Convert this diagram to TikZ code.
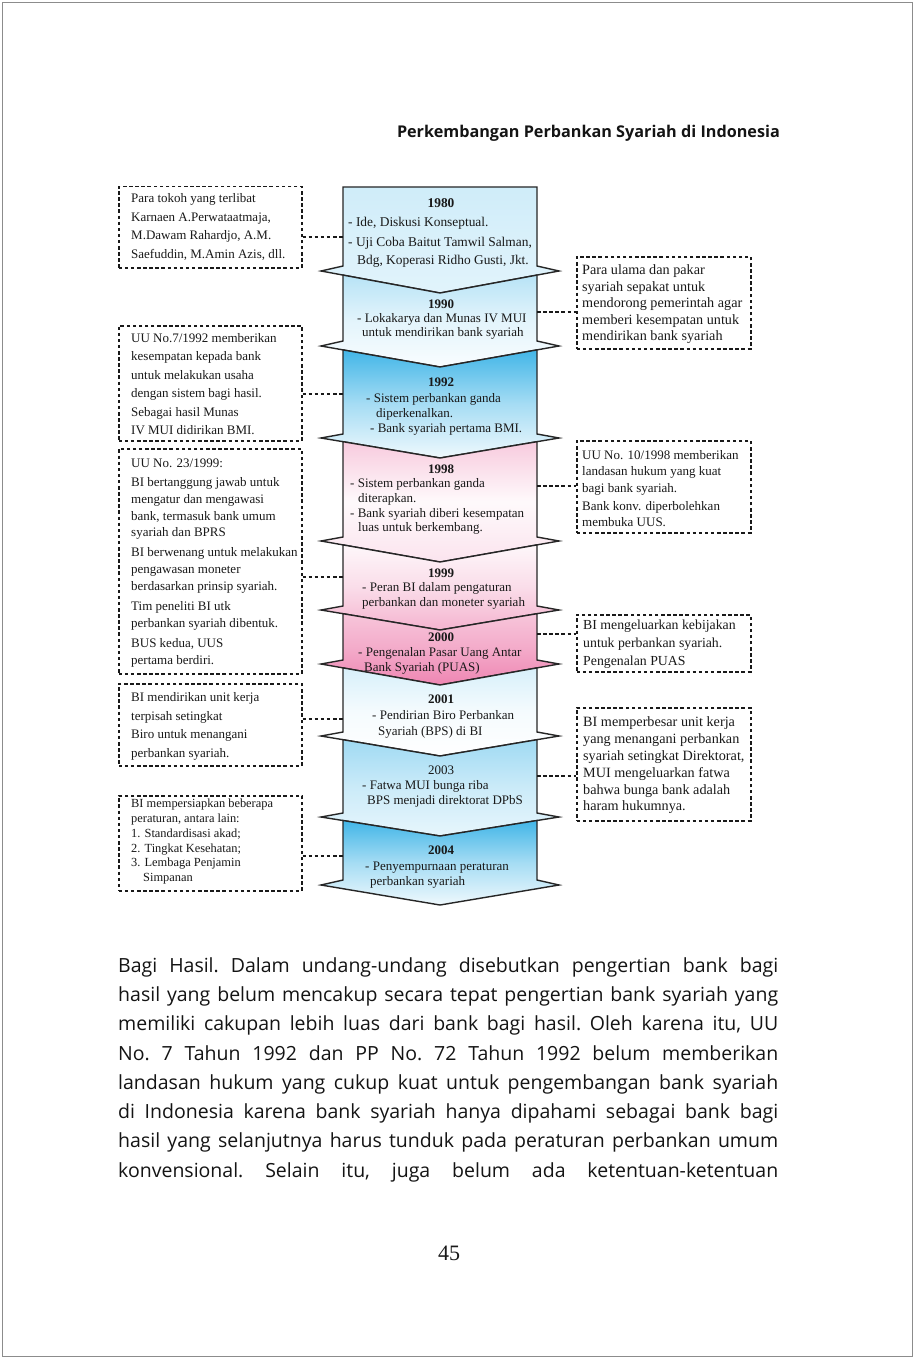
\documentclass[tikz,border=0pt]{standalone}
\usepackage{fontspec}
\setmainfont{Liberation Serif}
\newfontfamily\bodyfont{Open Sans}
\definecolor{skyb}{RGB}{56,178,230}
\definecolor{pinkc}{RGB}{236,118,168}
\newcommand\chevron[8]{%
  \path[chevline, top color=#6, bottom color=#8, middle color=#7]
    (343,#1) -- (440,#2) -- (537,#1) -- (537,#3) -- (559,#4) -- (440,#5) -- (321,#4) -- (343,#3) -- cycle;}
\newcommand\txlines[3]{%
  \foreach \xx/\yy/\ltext [count=\i] in {#3} {\node[tx,#2] (#1-\i) at (\xx,\yy) {\ltext};}}
\newcommand\bline[1]{\frenchspacing\spaceskip=0.22em plus 1em minus 0.1em\relax\hbox to 660pt{#1}}
\begin{document}
\begin{tikzpicture}[x=1pt,y=-1pt,
  chevline/.style={draw=black!85, line width=1.4pt, line join=miter},
  dbox/.style={draw=black!90, line width=1.5pt, dash pattern=on 3.5pt off 2.6pt, anchor=north west, inner sep=0pt},
  dline/.style={draw=black!90, line width=1.5pt, dash pattern=on 3.5pt off 2.6pt},
  tx/.style={anchor=base west, inner sep=0pt, text=black!90, font=\fontsize{13}{15}\selectfont},
  yr/.style={anchor=base, inner sep=0pt, text=black!90, font=\fontsize{13}{15}\selectfont\bfseries},
  bodyline/.style={anchor=base west, inner sep=0pt, text=black!92,
    font=\bodyfont\fontsize{19.5}{29}\selectfont},
]
\useasboundingbox (0,0) rectangle (915,1359);
\fill[white] (0,0) rectangle (915,1359);
\draw[black!45, line width=1pt] (2.5,2.5) rectangle (912.5,1356.5);

% header
\node[anchor=base east, inner sep=0pt, text=black!92, font=\bodyfont\bfseries\fontsize{16.2}{18}\selectfont] (hd) at (780,138) {Perkembangan Perbankan Syariah di Indonesia};

% chevrons
\chevron{187}{187}{266}{271}{293}{skyb!24}{skyb!19}{skyb!15}
\chevron{275.1}{293}{341}{346}{367}{skyb!36}{skyb!14}{skyb!3}
\chevron{349.9}{367}{434}{438}{458}{skyb!95}{skyb!45}{skyb!8}
\chevron{441.7}{458}{537}{541}{562}{pinkc!38}{pinkc!4}{pinkc!20}
\chevron{544.9}{562}{606}{610}{630}{pinkc!6}{pinkc!25}{pinkc!55}
\chevron{613.7}{630}{660}{664}{685}{pinkc!42}{pinkc!62}{pinkc!88}
\chevron{667.9}{685}{732}{736}{756}{skyb!20}{skyb!5}{white}
\chevron{739.7}{756}{813}{817}{836}{skyb!48}{skyb!26}{skyb!12}
\chevron{820.5}{836}{880}{885}{905}{skyb!95}{skyb!45}{skyb!8}

% chevron anchor points for connectors
\coordinate (k1) at (343,237);
\coordinate (k2) at (343,394);
\coordinate (k3) at (343,577);
\coordinate (k4) at (343,719);
\coordinate (k5) at (343,856);
\coordinate (r1) at (537,312);
\coordinate (r2) at (537,486);
\coordinate (r3) at (537,634);
\coordinate (r4) at (537,776);

% chevron texts
\node[yr, font=\fontsize{13.4}{15}\selectfont\bfseries] (Y80) at (441,207.5) {1980};
\txlines{S1}{font=\fontsize{13.4}{15}\selectfont}{348/226.5/{- Ide, Diskusi Konseptual.}, 348/246/{- Uji Coba Baitut Tamwil Salman,}, 357/264.5/{Bdg, Koperasi Ridho Gusti, Jkt.}}
\node[yr] (Y90) at (441,308.5) {1990};
\txlines{S2}{}{357/322/- Lokakarya dan Munas IV MUI, 362/336/untuk mendirikan bank syariah}
\node[yr] (Y92) at (441,386) {1992};
\txlines{S3}{}{366/402/- Sistem perbankan ganda, 376/417/diperkenalkan., 370/432/- Bank syariah pertama BMI.}
\node[yr] (Y98) at (441,473) {1998};
\txlines{S4}{}{350/487/- Sistem perbankan ganda, 358/502.5/diterapkan., 350/517/- Bank syariah diberi kesempatan, 358/531.5/luas untuk berkembang.}
\node[yr] (Y99) at (441,577.5) {1999};
\txlines{S5}{}{362/591/- Peran BI dalam pengaturan, 362/606/perbankan dan moneter syariah}
\node[yr] (Y00) at (441,641.5) {2000};
\txlines{S6}{}{358/656/- Pengenalan Pasar Uang Antar, 364/671/Bank Syariah (PUAS)}
\node[yr] (Y01) at (441,703.5) {2001};
\txlines{S7}{}{372/719/- Pendirian Biro Perbankan, 378/735/Syariah (BPS) di BI}
\node[yr, font=\fontsize{13}{15}\selectfont] (Y03) at (441,774.5) {2003};
\txlines{S8}{}{362/789/- Fatwa MUI bunga riba, 367/804.5/BPS menjadi direktorat DPbS}
\node[yr] (Y04) at (441,854.5) {2004};
\txlines{S9}{}{365/870/- Penyempurnaan peraturan, 370/885/perbankan syariah}

% left boxes
\node[dbox, minimum width=183pt, minimum height=81pt] (L1) at (118,186) {};
\txlines{L1t}{}{131/202/Para tokoh yang terlibat, 131/221/{Karnaen A.Perwataatmaja,}, 131/239.5/{M.Dawam Rahardjo, A.M.}, 131/258/{Saefuddin, M.Amin Azis, dll.}}
\node[dbox, minimum width=183pt, minimum height=115pt] (L2) at (118,325) {};
\txlines{L2t}{}{131/342/{UU No.7/1992 memberikan}, 131/360.5/kesempatan kepada bank, 131/379/untuk melakukan usaha, 131/397.5/dengan sistem bagi hasil., 131/416/Sebagai hasil Munas, 131/434.5/IV MUI didirikan BMI.}
\node[dbox, minimum width=183pt, minimum height=225pt] (L3) at (118,448) {};
\txlines{L3t}{}{131/467/{UU No. 23/1999:}, 131/486.5/BI bertanggung jawab untuk, 131/503.5/mengatur dan mengawasi, 131/520.5/{bank, termasuk bank umum}, 131/536.5/syariah dan BPRS, 131/556.5/BI berwenang untuk melakukan, 131/573.5/pengawasan moneter, 131/590.5/berdasarkan prinsip syariah., 131/610.5/Tim peneliti BI utk, 131/627/perbankan syariah dibentuk., 131/647.5/{BUS kedua, UUS}, 131/664.5/pertama berdiri.}
\node[dbox, minimum width=183pt, minimum height=82pt] (L4) at (118,683) {};
\txlines{L4t}{}{131/701/BI mendirikan unit kerja, 131/720/terpisah setingkat, 131/738/Biro untuk menangani, 131/757/perbankan syariah.}
\node[dbox, minimum width=183pt, minimum height=95pt] (L5) at (118,795) {};
\txlines{L5t}{font=\fontsize{12.4}{14}\selectfont}{131/807/BI mempersiapkan beberapa, 131/822.5/{peraturan, antara lain:}, 131/837/1. Standardisasi akad;, 131/852/2. Tingkat Kesehatan;, 131/866/3. Lembaga Penjamin, 143/881/Simpanan}

% right boxes
\node[dbox, minimum width=174pt, minimum height=92pt] (R1) at (576,256) {};
\txlines{R1t}{font=\fontsize{14.2}{16}\selectfont}{582/274/Para ulama dan pakar, 582/291/syariah sepakat untuk, 582/307.5/mendorong pemerintah agar, 582/324/memberi kesempatan untuk, 582/340.5/mendirikan bank syariah}
\node[dbox, minimum width=174pt, minimum height=92pt] (R2) at (576,440) {};
\txlines{R2t}{}{582/459/{UU No. 10/1998 memberikan}, 582/475.5/landasan hukum yang kuat, 582/492/bagi bank syariah., 582/510/Bank konv. diperbolehkan, 582/526/membuka UUS.}
\node[dbox, minimum width=174pt, minimum height=57pt] (R3) at (576,614) {};
\txlines{R3t}{font=\fontsize{13.8}{15}\selectfont}{583/629/BI mengeluarkan kebijakan, 583/647/untuk perbankan syariah., 583/665/Pengenalan PUAS}
\node[dbox, minimum width=174pt, minimum height=113pt] (R4) at (576,707) {};
\txlines{R4t}{font=\fontsize{14.2}{16}\selectfont}{583/726.5/BI memperbesar unit kerja, 583/743.5/yang menangani perbankan, 583/760.5/{syariah setingkat Direktorat,}, 583/777/MUI mengeluarkan fatwa, 583/794/bahwa bunga bank adalah, 583/810/haram hukumnya.}

% connectors
\draw[dline] (L1.east |- k1) -- (k1);
\draw[dline] (L2.east |- k2) -- (k2);
\draw[dline] (L3.east |- k3) -- (k3);
\draw[dline] (L4.east |- k4) -- (k4);
\draw[dline] (L5.east |- k5) -- (k5);
\draw[dline] (r1) -- (R1.west |- r1);
\draw[dline] (r2) -- (R2.west |- r2);
\draw[dline] (r3) -- (R3.west |- r3);
\draw[dline] (r4) -- (R4.west |- r4);

% body text
\node[bodyline] (b1) at (118,972) {\bline{Bagi Hasil. Dalam undang-undang disebutkan pengertian bank bagi}};
\node[bodyline] (b2) at (118,1001.3) {\bline{hasil yang belum mencakup secara tepat pengertian bank syariah yang}};
\node[bodyline] (b3) at (118,1030.6) {\bline{memiliki cakupan lebih luas dari bank bagi hasil. Oleh karena itu, UU}};
\node[bodyline] (b4) at (118,1060) {\bline{No. 7 Tahun 1992 dan PP No. 72 Tahun 1992 belum memberikan}};
\node[bodyline] (b5) at (118,1089.2) {\bline{landasan hukum yang cukup kuat untuk pengembangan bank syariah}};
\node[bodyline] (b6) at (118,1118.5) {\bline{di Indonesia karena bank syariah hanya dipahami sebagai bank bagi}};
\node[bodyline] (b7) at (118,1147.8) {\bline{hasil yang selanjutnya harus tunduk pada peraturan perbankan umum}};
\node[bodyline] (b8) at (118,1177) {\bline{konvensional. Selain itu, juga belum ada ketentuan-ketentuan}};

% page number
\node[anchor=base, inner sep=0pt, text=black!90, font=\fontsize{22}{24}\selectfont] (pg) at (449,1260) {45};
\end{tikzpicture}
\end{document}
